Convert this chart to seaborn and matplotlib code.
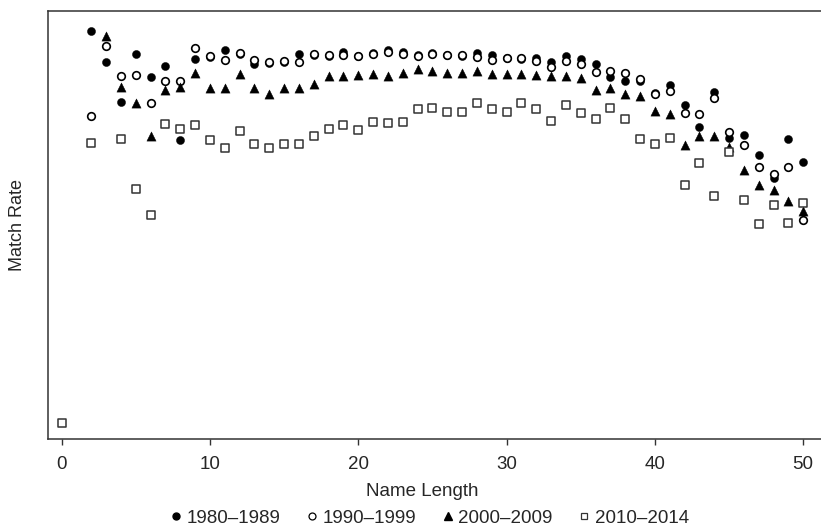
import numpy as np
import pandas as pd
import matplotlib
matplotlib.use("Agg")
import matplotlib.pyplot as plt
import seaborn as sns
from matplotlib.lines import Line2D

# ---- data (match rate, arbitrary % scale) ----
len_1980 = list(range(2, 51))
rate_1980 = [98.1, 95.2, 91.5, 96.0, 93.8, 94.9, 87.9, 95.5, 95.7, 96.4, 96.0, 95.0,
             95.1, 95.2, 96.0, 95.9, 95.8, 96.2, 95.8, 96.1, 96.4, 96.2, 95.9, 96.1,
             95.9, 95.8, 96.1, 95.9, 95.6, 95.5, 95.6, 95.2, 95.8, 95.5, 95.0, 93.8,
             93.5, 93.5, 92.3, 93.1, 91.2, 89.2, 92.4, 88.1, 88.4, 86.5, 84.4, 88.0,
             85.9]

len_1990 = list(range(2, 51))
rate_1990 = [90.2, 96.7, 93.9, 94.0, 91.4, 93.5, 93.5, 96.5, 95.8, 95.4, 96.1, 95.4,
             95.2, 95.3, 95.2, 96.0, 95.9, 95.9, 95.8, 96.0, 96.2, 96.0, 95.8, 96.0,
             95.9, 95.9, 95.7, 95.4, 95.6, 95.6, 95.3, 94.8, 95.3, 95.0, 94.3, 94.4,
             94.2, 93.6, 92.2, 92.5, 90.5, 90.4, 91.9, 88.7, 87.5, 85.4, 84.8, 85.4,
             80.5]

len_2000 = list(range(3, 51))
rate_2000 = [97.7, 92.9, 91.4, 88.3, 92.6, 92.9, 94.2, 92.8, 92.8, 94.1, 92.8, 92.2,
             92.8, 92.8, 93.2, 93.9, 93.9, 94.0, 94.1, 93.9, 94.2, 94.6, 94.4, 94.2,
             94.2, 94.4, 94.1, 94.1, 94.1, 94.0, 93.9, 93.9, 93.7, 92.6, 92.8, 92.2,
             92.1, 90.7, 90.4, 87.5, 88.3, 88.3, 87.3, 85.1, 83.7, 83.3, 82.2, 81.3]

len_2010 = [0, 2] + list(range(4, 51))
rate_2010 = [61.5, 87.7, 88.0, 83.4, 80.9, 89.4, 89.0, 89.3, 87.9, 87.2, 88.8, 87.6,
             87.2, 87.6, 87.6, 88.3, 89.0, 89.3, 88.9, 89.6, 89.5, 89.6, 90.8, 90.9,
             90.6, 90.6, 91.4, 90.8, 90.6, 91.4, 90.8, 89.7, 91.2, 90.5, 89.9, 90.9,
             89.9, 88.0, 87.6, 88.1, 83.7, 85.8, 82.7, 86.8, 82.3, 80.1, 81.9, 80.2,
             82.1]

periods = ["1980\u20131989", "1990\u20131999", "2000\u20132009", "2010\u20132014"]
x_ticks = [0, 10, 20, 30, 40, 50]

# ---- style ----
sns.set_theme(style="white")
plt.rcParams["font.family"] = ["Liberation Sans", "DejaVu Sans"]

fig = plt.figure(figsize=(8.21, 5.29), dpi=100)
ax = fig.add_axes([48 / 821, 1 - 439 / 529, 1 - 48 / 821, (439 - 11) / 529])

styles = [
    dict(marker="o", s=34, color="black", edgecolor="black", linewidth=0.3),
    dict(marker="o", s=30, facecolor="white", edgecolor="black", linewidth=1.2),
    dict(marker="^", s=44, color="black", edgecolor="black", linewidth=0.3),
    dict(marker="s", s=28, facecolor="white", edgecolor="#333333", linewidth=1.1),
]
series = [(len_1980, rate_1980), (len_1990, rate_1990),
          (len_2000, rate_2000), (len_2010, rate_2010)]

for (xs, ys), name, st in zip(series, periods, styles):
    df = pd.DataFrame({"Name Length": xs, "Match Rate": ys})
    sns.scatterplot(data=df, x="Name Length", y="Match Rate", ax=ax,
                    legend=False, zorder=3, **st)

FS = 13.5
ax.set_xlim(-0.92, 51.2)
ax.set_ylim(60, 100)
ax.set_xticks(x_ticks)
ax.set_xticklabels([str(t) for t in x_ticks], fontsize=FS)
ax.set_yticks([])
ax.tick_params(axis="x", direction="out", length=4, width=1, color="#333333",
               pad=8, bottom=True)
ax.set_xlabel("Name Length", fontsize=FS)
ax.xaxis.set_label_coords((422 - 48) / (821 - 48), -(491 - 439) / 428, transform=ax.transAxes)
ax.xaxis.label.set_va("center")
ax.set_ylabel("Match Rate", fontsize=13)
ax.yaxis.set_label_coords(-(48 - 17) / 773, 0.5, transform=ax.transAxes)
ax.yaxis.label.set_va("center")

for side in ["left", "bottom", "top"]:
    ax.spines[side].set_visible(True)
    ax.spines[side].set_color("#333333")
    ax.spines[side].set_linewidth(1.1)
ax.spines["right"].set_visible(False)

handles = [
    Line2D([], [], linestyle="none", marker="o", markersize=5,
           markerfacecolor="black", markeredgecolor="black"),
    Line2D([], [], linestyle="none", marker="o", markersize=5,
           markerfacecolor="white", markeredgecolor="black", markeredgewidth=0.9),
    Line2D([], [], linestyle="none", marker="^", markersize=5.5,
           markerfacecolor="black", markeredgecolor="black"),
    Line2D([], [], linestyle="none", marker="s", markersize=5,
           markerfacecolor="white", markeredgecolor="#333333", markeredgewidth=0.9),
]
fig.legend(handles, periods, loc="center", bbox_to_anchor=(430 / 821, 1 - 518 / 529),
           ncol=4, frameon=False, fontsize=FS, handlelength=0.5,
           handletextpad=0.3, columnspacing=1.45, borderaxespad=0, borderpad=0)

fig.savefig("out.png", dpi=100)
